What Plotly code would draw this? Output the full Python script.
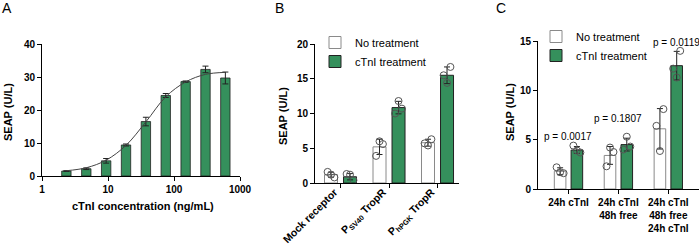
import plotly.graph_objects as go
import numpy as np

# ---------------- data ----------------
# Panel A
a_conc = [2.34, 4.69, 9.375, 18.75, 37.5, 75, 150, 300, 600]
a_seap = [1.5, 2.2, 4.6, 9.4, 16.5, 24.4, 28.6, 32.3, 29.7]
a_err = [0.1, 0.25, 0.7, 0.3, 1.3, 0.6, 0.2, 1.0, 1.8]
a_fit_conc = [2.34, 4.69, 9.375, 18.75, 37.5, 75, 150, 300, 600]
a_fit_seap = [1.6, 2.5, 4.8, 9.3, 16.4, 24.0, 28.5, 30.8, 31.4]
a_xticks = ["1", "10", "100", "1000"]

# Panel B
b_cats = ["Mock receptor", "P<sub>SV40</sub> TropR", "P<sub>hPGK</sub> TropR"]
b_no_mean = [1.2, 5.2, 5.8]
b_no_err = [0.35, 1.1, 0.5]
b_no_pts = [[1.6, 1.2, 0.8], [6.0, 5.6, 3.9], [6.3, 5.7, 5.4]]
b_tr_mean = [0.9, 10.85, 15.5]
b_tr_err = [0.45, 0.9, 1.2]
b_tr_pts = [[1.3, 1.2, 0.4], [11.8, 10.7, 10.0], [16.7, 15.5, 14.4]]

# Panel C
c_cats = ["24h cTnI", "24h cTnI<br>48h free", "24h cTnI<br>48h free<br>24h cTnI"]
c_no_mean = [1.8, 3.4, 6.1]
c_no_err = [0.35, 0.9, 2.05]
c_no_pts = [[2.2, 1.7, 1.6], [4.2, 3.75, 2.3], [8.1, 6.4, 3.85]]
c_tr_mean = [3.95, 4.5, 12.5]
c_tr_err = [0.35, 0.65, 1.45]
c_tr_pts = [[4.4, 3.9, 3.7], [5.3, 4.3, 4.0], [14.0, 12.2, 11.3]]
c_pvals = ["p = 0.0017", "p = 0.1807", "p = 0.0119"]
c_pval_y = [5.37, 7.1, 14.82]

series_names = ["No treatment", "cTnI treatment"]

# ---------------- style ----------------
W, H = 699, 249
GREEN = "#35905c"
FONT = "Liberation Sans, Arial, sans-serif"
DOT = "#555555"

def px(x):
    return x / W

def py(y):
    return 1 - y / H

fig = go.Figure()

# ---- Panel A ----
a_logx = [np.log10(v) for v in a_conc]
fig.add_trace(go.Bar(
    x=a_logx, y=a_seap, width=0.142,
    marker=dict(color=GREEN, line=dict(color="#222222", width=0.8)),
    error_y=dict(type="data", array=a_err, color="#222222", thickness=1, width=3),
    xaxis="x", yaxis="y", showlegend=False))
fig.add_trace(go.Scatter(
    x=[np.log10(v) for v in a_fit_conc], y=a_fit_seap, mode="lines",
    line=dict(color="#444444", width=1, shape="spline", smoothing=1.0),
    xaxis="x", yaxis="y", showlegend=False))

# ---- grouped panels helper ----
def add_group(cats, no_mean, no_err, no_pts, tr_mean, tr_err, tr_pts,
              xa, ya, off, bw, legend, jit):
    idx = list(range(len(cats)))
    for k, (mean, err, pts, color, lcol) in enumerate([
            (no_mean, no_err, no_pts, "white", "#8a8a8a"),
            (tr_mean, tr_err, tr_pts, GREEN, "#222222")]):
        o = -off if k == 0 else off
        fig.add_trace(go.Bar(
            x=[i + o for i in idx], y=mean, width=bw,
            name=series_names[k],
            marker=dict(color=color, line=dict(color=lcol, width=1)),
            error_y=dict(type="data", array=err, color="#222222", thickness=1, width=3),
            xaxis=xa, yaxis=ya, legend=legend, showlegend=True))
        xs, ys = [], []
        for i, p in zip(idx, pts):
            for j, v in enumerate(p):
                xs.append(i + o + jit[(j + i) % 3])
                ys.append(v)
        fig.add_trace(go.Scatter(
            x=xs, y=ys, mode="markers",
            marker=dict(symbol="circle-open", size=7, color=DOT, line=dict(width=1)),
            xaxis=xa, yaxis=ya, showlegend=False, hoverinfo="skip"))

add_group(b_cats, b_no_mean, b_no_err, b_no_pts, b_tr_mean, b_tr_err, b_tr_pts,
          "x2", "y2", 0.196, 0.268, "legend", [-0.07, 0.0, 0.07])
add_group(c_cats, c_no_mean, c_no_err, c_no_pts, c_tr_mean, c_tr_err, c_tr_pts,
          "x3", "y3", 0.168, 0.232, "legend2", [-0.07, 0.0, 0.07])

# ---------------- axes ----------------
tickfont = dict(family=FONT, size=10, color="black", weight="bold")
axbase = dict(showline=True, linecolor="black", linewidth=1, ticks="outside",
              ticklen=4, tickwidth=1, tickcolor="black", showgrid=False,
              zeroline=False, tickfont=tickfont, fixedrange=True, automargin=False)

layout = dict(
    template="none",
    width=W, height=H, margin=dict(l=0, r=0, t=0, b=0, autoexpand=False),
    paper_bgcolor="white", plot_bgcolor="rgba(0,0,0,0)",
    barmode="overlay",
    font=dict(family=FONT, color="black"),
    xaxis=dict(axbase, domain=[px(42), px(240)], range=[0, 3],
               tickvals=[0, 1, 2, 3], ticktext=a_xticks, anchor="y"),
    yaxis=dict(axbase, domain=[py(176), py(44)], range=[0, 40], dtick=10, anchor="x"),
    xaxis2=dict(axbase, domain=[px(315), px(459)], range=[-0.526, 2.443],
                tickvals=list(range(len(b_cats))), ticktext=b_cats, tickangle=-45,
                tickfont=dict(tickfont, size=10.5), ticklabelshift=-6,
                ticklabelstandoff=-6, anchor="y2"),
    yaxis2=dict(axbase, domain=[py(183), py(44)], range=[0, 20], dtick=5, anchor="x2"),
    xaxis3=dict(axbase, domain=[px(538), 1.0], range=[-0.611, 2.615],
                tickvals=list(range(len(c_cats))), ticktext=c_cats, anchor="y3"),
    yaxis3=dict(axbase, domain=[py(189), py(41)], range=[0, 15], dtick=5, anchor="x3"),
    legend=dict(x=px(315), y=py(28), xanchor="left", yanchor="top",
                bgcolor="rgba(0,0,0,0)", font=dict(family=FONT, size=11, color="black"),
                traceorder="normal"),
    legend2=dict(x=px(536), y=py(22), xanchor="left", yanchor="top",
                 bgcolor="rgba(0,0,0,0)", font=dict(family=FONT, size=11, color="black"),
                 traceorder="normal"),
)
fig.update_layout(**layout)

ann = []
titlefont = dict(family=FONT, size=11, color="black", weight="bold")
ann.append(dict(text="cTnI concentration (ng/mL)", x=px(143), y=py(206), xref="paper",
                yref="paper", showarrow=False, font=titlefont, xanchor="center", yanchor="middle"))
for xx, yy in [(8, 112), (283, 116), (510, 112)]:
    ann.append(dict(text="SEAP (U/L)", x=px(xx), y=py(yy), xref="paper", yref="paper",
                    showarrow=False, font=titlefont, textangle=-90,
                    xanchor="center", yanchor="middle"))
for letter, xx in [("A", 7), ("B", 279), ("C", 501)]:
    ann.append(dict(text=letter, x=px(xx), y=py(8), xref="paper", yref="paper",
                    showarrow=False, font=dict(family=FONT, size=14, color="black"),
                    xanchor="center", yanchor="middle"))
p_xoff = [0.0, 0.0, 0.168]
for i, (t, yv) in enumerate(zip(c_pvals, c_pval_y)):
    ann.append(dict(text=t, x=i + p_xoff[i], y=yv, xref="x3", yref="y3", showarrow=False,
                    font=dict(family=FONT, size=10, color="black"),
                    xanchor="center", yanchor="middle"))
fig.update_layout(annotations=ann)

fig.write_html("out.html")
